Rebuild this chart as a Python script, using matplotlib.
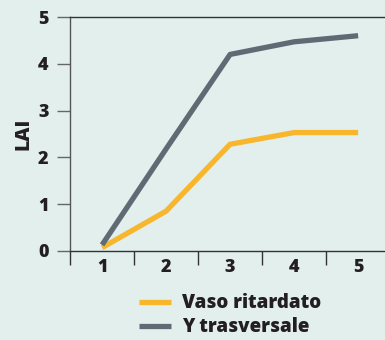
import matplotlib.pyplot as plt
from matplotlib.ticker import FixedLocator

plt.rcParams['font.family'] = ['Open Sans', 'DejaVu Sans']
plt.rcParams['font.weight'] = 800

stages = [1, 2, 3, 4, 5]
vaso = [0.07, 0.85, 2.28, 2.53, 2.53]
trasv = [0.13, 2.18, 4.2, 4.47, 4.6]

bg = '#e2efed'
ink = '#231f20'
fig = plt.figure(figsize=(3.85, 3.4), dpi=100, facecolor=bg)
ax = fig.add_axes([0.182, 0.262, 0.818, 0.688], facecolor=bg)

ax.plot(stages, vaso, color='#f8b62d', lw=3.8, label='Vaso ritardato', solid_capstyle='butt')
ax.plot(stages, trasv, color='#5e6a74', lw=3.8, label='Y trasversale', solid_capstyle='butt')

ax.set_xlim(0.5, 5.42)
ax.set_ylim(0, 5)
ax.set_xticks(stages)
ax.xaxis.set_minor_locator(FixedLocator([0.5, 1.5, 2.5, 3.5, 4.5, 5.5]))
ax.tick_params(axis='x', which='major', length=0, pad=6, labelsize=13, labelcolor=ink)
ax.tick_params(axis='x', which='minor', length=10, width=1, color='#333333', direction='out')
ax.set_yticks([0, 1, 2, 3, 4, 5])
ax.tick_params(axis='y', length=9.5, width=1, color='#666666', direction='out', pad=6,
               labelsize=13, labelcolor=ink)
for lbl in ax.get_xticklabels() + ax.get_yticklabels():
    lbl.set_fontweight(800)

for s in ['left', 'bottom', 'top']:
    ax.spines[s].set_color('#333333')
    ax.spines[s].set_linewidth(1)
ax.spines['right'].set_visible(False)
ax.spines['left'].set_color('#555555')

ax.set_ylabel('LAI', fontsize=14, fontweight=800, color=ink, labelpad=3)

ax.legend(loc='upper left', bbox_to_anchor=(0.36, 0.138), bbox_transform=fig.transFigure,
          frameon=False, handlelength=1.75, handletextpad=0.55,
          labelspacing=0.22, borderpad=0, borderaxespad=0,
          labelcolor=ink, prop={'family': 'Open Sans', 'weight': 800, 'size': 13.5})

fig.savefig('out.png', dpi=100, facecolor=bg)
